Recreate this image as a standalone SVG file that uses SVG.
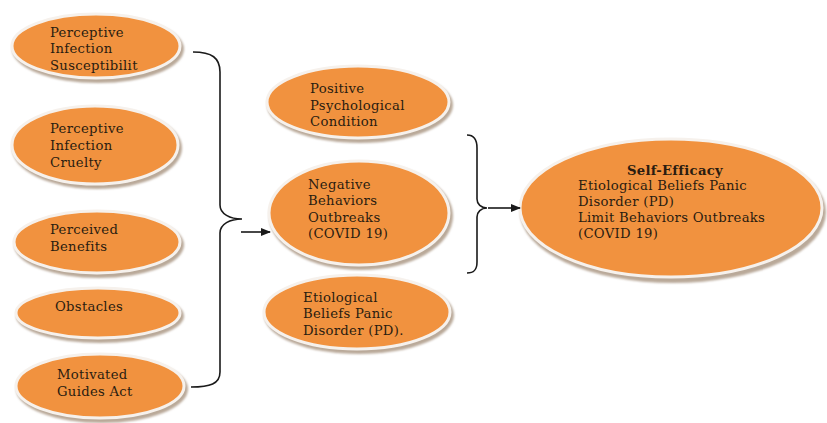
<svg xmlns="http://www.w3.org/2000/svg" width="827" height="423" viewBox="0 0 827 423">
<defs>
<style>
.sh{fill:#b9a999;}
.el{fill:#F1923F;stroke:#f6f1ec;stroke-width:3;}
.t{font-family:"DejaVu Serif","Liberation Serif",serif;font-size:13.2px;letter-spacing:0.3px;fill:#2a1c10;}
.b{font-weight:bold;}
.ln{fill:none;stroke:#1a1a1a;stroke-width:1.6;}
</style>
<filter id="bl" x="-10%" y="-10%" width="120%" height="130%"><feGaussianBlur stdDeviation="1.2"/></filter>
<marker id="ah" markerWidth="10" markerHeight="8" refX="9" refY="4" orient="auto" markerUnits="userSpaceOnUse">
<path d="M0,0 L10,4 L0,8 z" fill="#1a1a1a"/>
</marker>
</defs>
<rect width="827" height="423" fill="#ffffff"/>

<g id="n1">
<ellipse class="sh" cx="98" cy="49" rx="86" ry="34" filter="url(#bl)"/>
<ellipse class="el" cx="96" cy="46" rx="84" ry="32"/>
<text class="t" x="50"><tspan x="50" y="37">Perceptive</tspan><tspan x="50" y="53">Infection</tspan><tspan x="50" y="70">Susceptibilit</tspan></text>
</g>
<g id="n2">
<ellipse class="sh" cx="97" cy="148" rx="85" ry="41" filter="url(#bl)"/>
<ellipse class="el" cx="95" cy="145" rx="83" ry="39"/>
<text class="t"><tspan x="50" y="133">Perceptive</tspan><tspan x="50" y="150">Infection</tspan><tspan x="50" y="167">Cruelty</tspan></text>
</g>
<g id="n3">
<ellipse class="sh" cx="99" cy="245" rx="85" ry="33" filter="url(#bl)"/>
<ellipse class="el" cx="97" cy="242" rx="83" ry="31"/>
<text class="t"><tspan x="50" y="234">Perceived</tspan><tspan x="50" y="251">Benefits</tspan></text>
</g>
<g id="n4">
<ellipse class="sh" cx="100" cy="316" rx="84" ry="27" filter="url(#bl)"/>
<ellipse class="el" cx="98" cy="313" rx="82" ry="25"/>
<text class="t" x="55" y="311">Obstacles</text>
</g>
<g id="n5">
<ellipse class="sh" cx="102" cy="389" rx="86" ry="34" filter="url(#bl)"/>
<ellipse class="el" cx="100" cy="386" rx="84" ry="32"/>
<text class="t"><tspan x="57" y="379">Motivated</tspan><tspan x="57" y="396">Guides Act</tspan></text>
</g>

<g id="n6">
<ellipse class="sh" cx="360" cy="105" rx="93" ry="38" filter="url(#bl)"/>
<ellipse class="el" cx="358" cy="102" rx="91" ry="36"/>
<text class="t"><tspan x="310" y="93">Positive</tspan><tspan x="310" y="110">Psychological</tspan><tspan x="310" y="126">Condition</tspan></text>
</g>
<g id="n7">
<ellipse class="sh" cx="361" cy="216" rx="92" ry="54" filter="url(#bl)"/>
<ellipse class="el" cx="359" cy="213" rx="90" ry="52"/>
<text class="t"><tspan x="308" y="189">Negative</tspan><tspan x="308" y="205">Behaviors</tspan><tspan x="308" y="222">Outbreaks</tspan><tspan x="308" y="238">(COVID 19)</tspan></text>
</g>
<g id="n8">
<ellipse class="sh" cx="359" cy="315" rx="95" ry="39" filter="url(#bl)"/>
<ellipse class="el" cx="357" cy="312" rx="93" ry="37"/>
<text class="t"><tspan x="303" y="302">Etiological</tspan><tspan x="303" y="318">Beliefs Panic</tspan><tspan x="303" y="335">Disorder (PD).</tspan></text>
</g>

<g id="n9">
<ellipse class="sh" cx="673" cy="212" rx="153" ry="71" filter="url(#bl)"/>
<ellipse class="el" cx="671" cy="208" rx="151" ry="69"/>
<text class="t"><tspan class="b" x="675" y="175" text-anchor="middle">Self-Efficacy</tspan><tspan x="578" y="190">Etiological Beliefs Panic</tspan><tspan x="578" y="206">Disorder (PD)</tspan><tspan x="578" y="222">Limit Behaviors Outbreaks</tspan><tspan x="578" y="238">(COVID 19)</tspan></text>
</g>

<g id="connectors">
<path class="ln" d="M193,52 C212,52 220,58 220,72 L220,205 C220,214 230,219 242,219 C230,219 220,224 220,233 L220,372 C220,384 210,387 191,387"/>
<path class="ln" d="M241,232 L270,232" marker-end="url(#ah)"/>
<path class="ln" d="M467,135 C474,135 477,140 477,148 L477,199 C477,204 481,208 487,208 C481,208 477,212 477,217 L477,262 C477,270 474,273 467,273"/>
<path class="ln" d="M488,208 L520,208" marker-end="url(#ah)"/>
</g>
</svg>
